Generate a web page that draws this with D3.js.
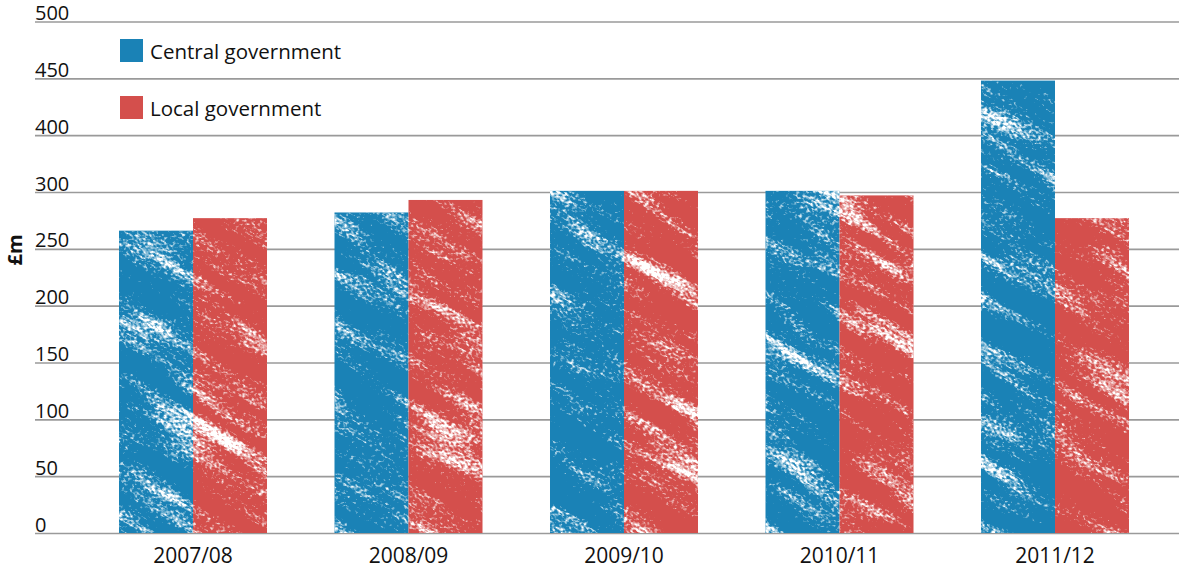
<!DOCTYPE html>
<html>
<head>
<meta charset="utf-8">
<script src="https://cdn.jsdelivr.net/npm/d3@7"></script>
<style>
  html, body { margin: 0; padding: 0; background: #fff; }
  svg { display: block; }
  text { font-family: "Open Sans", "DejaVu Sans", sans-serif; fill: #111; }
</style>
</head>
<body>
<svg id="chart" width="1179" height="574"></svg>
<script>
// Spending by year, £m
const years = ["2007/08", "2008/09", "2009/10", "2010/11", "2011/12"];
const centralGovernment = [266, 282, 301, 301, 398];
const localGovernment = [277, 293, 301, 297, 277];
const seriesNames = ["Central government", "Local government"];
const seriesColors = ["#1a82b6", "#d44f4c"];
// Axis tick positions and their printed labels
const tickValues = [0, 50, 100, 150, 200, 250, 300, 350, 400, 450];
const tickLabels = ["0", "50", "100", "150", "200", "250", "300", "400", "450", "500"];

const W = 1179, H = 574;
const svg = d3.select("#chart");

const y = d3.scaleLinear().domain([0, 450]).range([533, 21.5]);
const x0 = d3.scaleBand().domain(years).range([85.25, 1162.75]).paddingInner(0.3132).paddingOuter(0.1566);
const x1 = d3.scaleBand().domain(seriesNames).range([0, x0.bandwidth()]);

const defs = svg.append("defs");

// Scratchy chalk texture: stretched noise for streaks plus fine grain
const f = defs.append("filter").attr("id", "chalk")
  .attr("filterUnits", "userSpaceOnUse")
  .attr("x", -900).attr("y", -900).attr("width", 2800).attr("height", 2400)
  .attr("color-interpolation-filters", "sRGB");
f.append("feTurbulence").attr("type", "fractalNoise").attr("baseFrequency", "0.009 0.05")
  .attr("numOctaves", 3).attr("seed", 7).attr("result", "lowRaw");
f.append("feColorMatrix").attr("in", "lowRaw").attr("type", "matrix")
  .attr("values", "1 0 0 0 0  1 0 0 0 0  1 0 0 0 0  0 0 0 0 1").attr("result", "low");
f.append("feTurbulence").attr("type", "fractalNoise").attr("baseFrequency", "0.28 0.45")
  .attr("numOctaves", 2).attr("seed", 2).attr("result", "grainRaw");
f.append("feColorMatrix").attr("in", "grainRaw").attr("type", "matrix")
  .attr("values", "1 0 0 0 0  1 0 0 0 0  1 0 0 0 0  0 0 0 0 1").attr("result", "grain");
f.append("feComposite").attr("in", "low").attr("in2", "grain").attr("operator", "arithmetic")
  .attr("k1", 0).attr("k2", 0.55).attr("k3", 0.45).attr("k4", 0).attr("result", "mix");
f.append("feColorMatrix").attr("in", "mix").attr("type", "matrix")
  .attr("values", "0 0 0 0 1  0 0 0 0 1  0 0 0 0 1  7 0 0 0 -3.75");

// Gridlines and y labels
const yAxis = d3.axisRight(y).tickValues(tickValues)
  .tickFormat((d, i) => tickLabels[i]).tickSize(W - 35);
const gy = svg.append("g").attr("transform", "translate(35,0)").call(yAxis);
gy.select(".domain").remove();
gy.selectAll(".tick line").attr("stroke", "#9a9a9a").attr("stroke-width", 1.6);
gy.selectAll(".tick text").attr("x", 0).attr("dy", -2).attr("text-anchor", "start")
  .style("font-size", "20px").attr("fill", "#111");

// Bars
const rows = years.map((yr, i) => ({ year: yr, values: [centralGovernment[i], localGovernment[i]] }));
const barData = rows.flatMap(r => r.values.map((v, j) => ({ year: r.year, series: seriesNames[j], value: v, color: seriesColors[j] })));

const clip = defs.append("clipPath").attr("id", "barsClip");
clip.selectAll("rect").data(barData).join("rect")
  .attr("x", d => x0(d.year) + x1(d.series)).attr("width", x1.bandwidth())
  .attr("y", d => y(d.value)).attr("height", d => y(0) - y(d.value));

svg.append("g").selectAll("rect").data(barData).join("rect")
  .attr("x", d => x0(d.year) + x1(d.series)).attr("width", x1.bandwidth())
  .attr("y", d => y(d.value)).attr("height", d => y(0) - y(d.value))
  .attr("fill", d => d.color);

svg.append("g").attr("clip-path", "url(#barsClip)")
  .append("g").attr("transform", "rotate(30)")
  .append("rect").attr("x", -600).attr("y", -900).attr("width", 2200).attr("height", 1800)
  .attr("fill", "#fff").attr("filter", "url(#chalk)");

// X axis labels
const xAxis = d3.axisBottom(x0).tickSize(0).tickPadding(0);
const gx = svg.append("g").attr("transform", "translate(0,548)").call(xAxis);
gx.select(".domain").remove();
gx.selectAll(".tick text").attr("dy", "0.71em").style("font-size", "21px").attr("fill", "#111");

// Y axis title
svg.append("text").attr("transform", "translate(22,250) rotate(-90)")
  .attr("text-anchor", "middle").style("font-size", "20px").style("font-weight", "bold").text("£m");

// Legend
const lg = svg.append("g").selectAll("g").data(seriesNames).join("g")
  .attr("transform", (d, i) => `translate(120,${39 + i * 57})`);
lg.append("rect").attr("width", 23).attr("height", 23).attr("fill", (d, i) => seriesColors[i]);
lg.append("text").attr("x", 30).attr("y", 20).style("font-size", "20.5px").text(d => d);
</script>
</body>
</html>
